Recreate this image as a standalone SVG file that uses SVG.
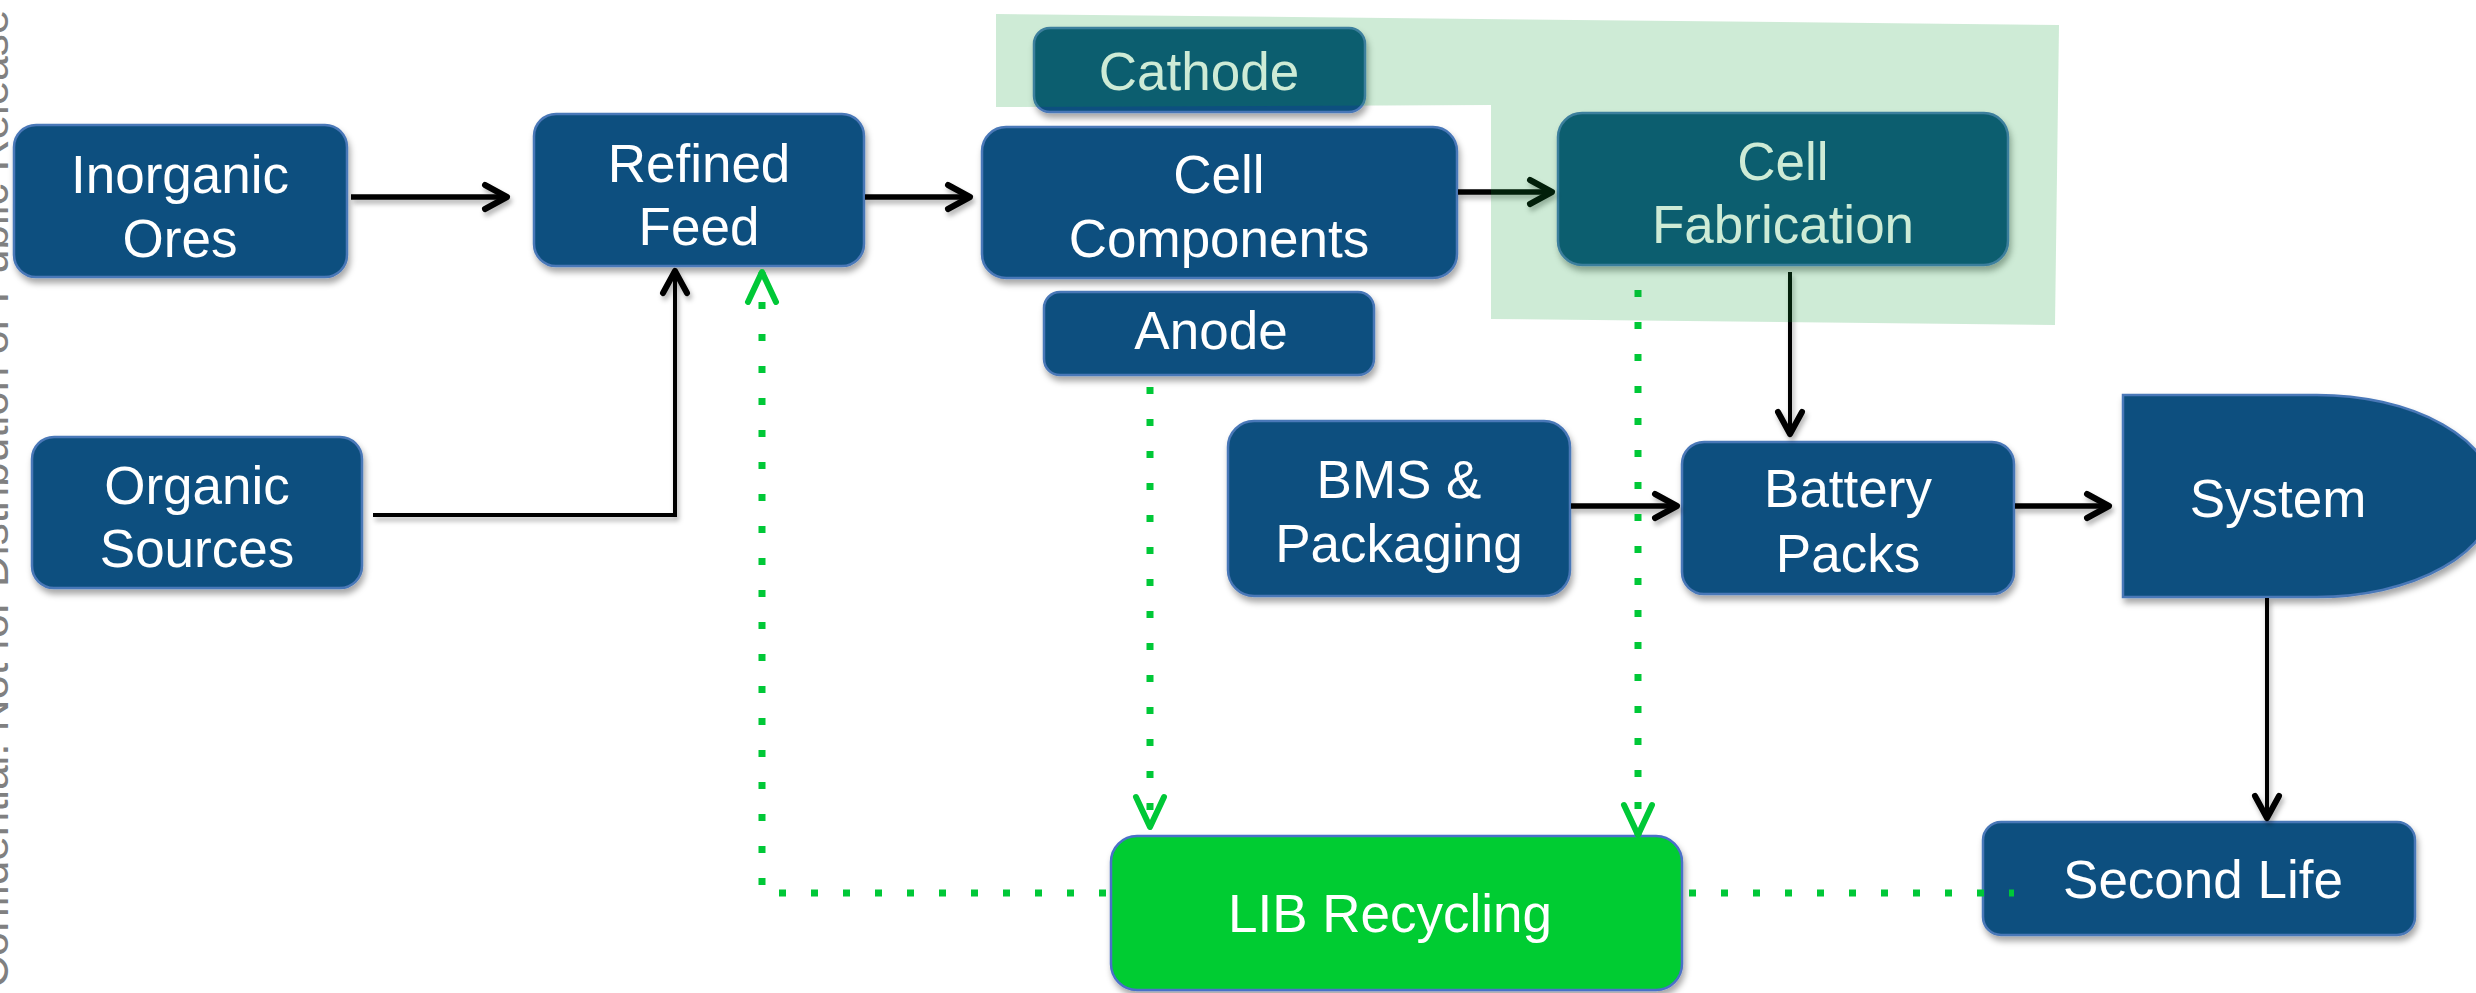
<svg xmlns="http://www.w3.org/2000/svg" width="2476" height="993" viewBox="0 0 2476 993">
<defs>
<style>
.node{fill:#11507F;stroke:#4A78B8;stroke-width:2.5;filter:url(#sh)}
.lib{fill:#00CC33;stroke:#4A6FC8;stroke-width:2.5;filter:url(#sh)}
.t{font-family:"Liberation Sans",Arial,sans-serif;font-size:53px;fill:#FFFFFF;text-anchor:middle}
.blk{fill:none;stroke:#000;stroke-width:5.5;filter:url(#lsh)}
.blk2{fill:none;stroke:#000;stroke-width:4;filter:url(#lsh)}
.grn{fill:none;stroke:#00C837;stroke-width:7;stroke-dasharray:7 25}
.wm{font-family:"Liberation Sans",Arial,sans-serif;font-size:44px;fill:#808080}
</style>
<filter id="sh" x="-10%" y="-10%" width="125%" height="130%">
<feDropShadow dx="2" dy="5" stdDeviation="3" flood-color="#000" flood-opacity="0.35"/>
</filter>
<filter id="lsh" filterUnits="userSpaceOnUse" x="0" y="0" width="2476" height="993">
<feDropShadow dx="2" dy="4" stdDeviation="2.5" flood-color="#000" flood-opacity="0.3"/>
</filter>
<marker id="ab" viewBox="-32 -18 40 36" refX="0" refY="0" markerWidth="40" markerHeight="36" orient="auto" markerUnits="userSpaceOnUse">
<path d="M-22,-12 L0,0 L-22,12" fill="none" stroke="#000" stroke-width="6" stroke-linecap="round" stroke-linejoin="round"/>
</marker>
<marker id="ag" viewBox="-36 -20 42 40" refX="0" refY="0" markerWidth="42" markerHeight="40" orient="auto" markerUnits="userSpaceOnUse">
<path d="M-30,-14 L0,0 L-30,14" fill="none" stroke="#00C837" stroke-width="6" stroke-linecap="round" stroke-linejoin="round"/>
</marker>
</defs>
<rect x="0" y="0" width="2476" height="993" fill="#FFFFFF"/>

<text class="wm" transform="translate(8,988) rotate(-90)">Confidential: Not for Distribution or Public Release</text>

<g id="n-inorganic">
<rect class="node" x="14" y="125" width="333" height="152" rx="22"/>
<text class="t" x="180" y="193">Inorganic</text>
<text class="t" x="180" y="257">Ores</text>
</g>
<g id="n-organic">
<rect class="node" x="32" y="437" width="330" height="151" rx="22"/>
<text class="t" x="197" y="504">Organic</text>
<text class="t" x="197" y="567">Sources</text>
</g>
<g id="n-refined">
<rect class="node" x="534" y="114" width="330" height="152" rx="22"/>
<text class="t" x="699" y="182">Refined</text>
<text class="t" x="699" y="245">Feed</text>
</g>
<g id="n-cathode">
<rect class="node" x="1034" y="28" width="331" height="84" rx="16"/>
<text class="t" x="1199" y="90">Cathode</text>
</g>
<g id="n-cell-components">
<rect class="node" x="982" y="127" width="475" height="151" rx="24"/>
<text class="t" x="1219" y="193">Cell</text>
<text class="t" x="1219" y="257">Components</text>
</g>
<g id="n-anode">
<rect class="node" x="1044" y="292" width="330" height="83" rx="16"/>
<text class="t" x="1211" y="349">Anode</text>
</g>
<g id="n-cell-fabrication">
<rect class="node" x="1558" y="113" width="450" height="152" rx="24"/>
<text class="t" x="1783" y="180">Cell</text>
<text class="t" x="1783" y="243">Fabrication</text>
</g>
<g id="n-bms">
<rect class="node" x="1228" y="421" width="342" height="175" rx="26"/>
<text class="t" x="1399" y="498">BMS &amp;</text>
<text class="t" x="1399" y="562">Packaging</text>
</g>
<g id="n-battery">
<rect class="node" x="1682" y="442" width="332" height="152" rx="22"/>
<text class="t" x="1848" y="507">Battery</text>
<text class="t" x="1848" y="572">Packs</text>
</g>
<g id="n-system">
<path class="node" d="M2123,395 H2317 A178,101 0 0 1 2317,597 H2123 Z"/>
<text class="t" x="2278" y="517">System</text>
</g>
<g id="n-second-life">
<rect class="node" x="1983" y="822" width="432" height="113" rx="18"/>
<text class="t" x="2203" y="898">Second Life</text>
</g>
<g id="n-lib-recycling">
<rect class="lib" x="1111" y="836" width="571" height="154" rx="26"/>
<text class="t" x="1390" y="932">LIB Recycling</text>
</g>

<g id="connectors">
<path class="blk" d="M351,197 H507" marker-end="url(#ab)"/>
<path class="blk" d="M865,197 H970" marker-end="url(#ab)"/>
<path class="blk" d="M1458,192 H1552" marker-end="url(#ab)"/>
<path class="blk2" d="M373,515 H675 V271" marker-end="url(#ab)"/>
<path class="blk2" d="M1790,272 V434" marker-end="url(#ab)"/>
<path class="blk" d="M1571,506 H1677" marker-end="url(#ab)"/>
<path class="blk" d="M2015,506 H2109" marker-end="url(#ab)"/>
<path class="blk2" d="M2267,598 V818" marker-end="url(#ab)"/>
<path class="grn" d="M1106,893 H762 V272" marker-end="url(#ag)"/>
<path class="grn" d="M1150,387 V827" marker-end="url(#ag)"/>
<path class="grn" d="M1638,290 V835" marker-end="url(#ag)"/>
<path class="grn" d="M1689,893 H2014"/>
</g>

<path id="cell-highlight" d="M996,14 L2059,25 L2055,325 L1491,319 L1491,105 L996,107 Z" fill="#0C9A32" fill-opacity="0.2"/>
</svg>
